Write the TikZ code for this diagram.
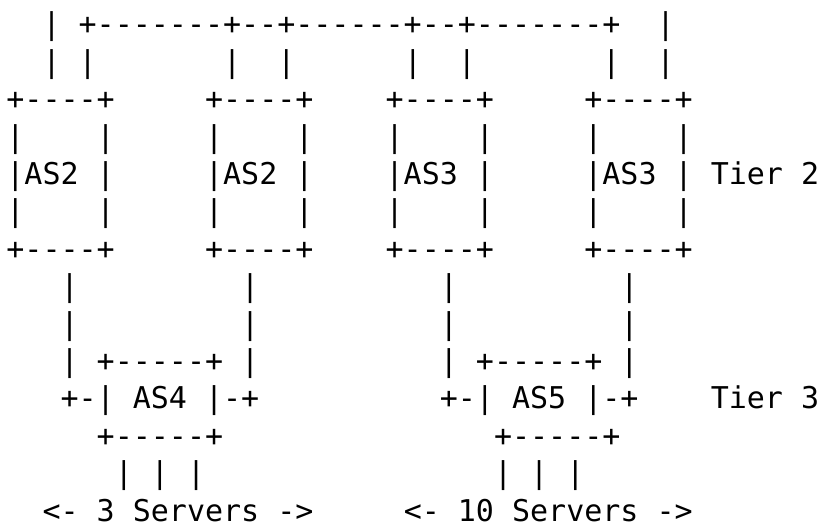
\documentclass[tikz,border=0pt]{standalone}
\usepackage{fontspec}
\setmonofont{DejaVu Sans Mono}
\tikzset{
  asciirow/.style = {anchor=base west, inner sep=0pt, text=black,
    font=\ttfamily\fontsize{15}{18}\selectfont},
}
\newcommand*{\rowpitch}{18.7}

\begin{document}
\begin{tikzpicture}[x=1pt,y=1pt]
  \useasboundingbox (0,0) rectangle (409.5,-264);
  % one node per text line, ~ keeps the columns
  \foreach \line [count=\i] in {
    ~~|~+-------+--+------+--+-------+~~|,
    ~~|~|~~~~~~~|~~|~~~~~~|~~|~~~~~~~|~~|,
    +----+~~~~~+----+~~~~+----+~~~~~+----+,
    |~~~~|~~~~~|~~~~|~~~~|~~~~|~~~~~|~~~~|,
    |AS2~|~~~~~|AS2~|~~~~|AS3~|~~~~~|AS3~|~Tier~2,
    |~~~~|~~~~~|~~~~|~~~~|~~~~|~~~~~|~~~~|,
    +----+~~~~~+----+~~~~+----+~~~~~+----+,
    ~~~|~~~~~~~~~|~~~~~~~~~~|~~~~~~~~~|,
    ~~~|~~~~~~~~~|~~~~~~~~~~|~~~~~~~~~|,
    ~~~|~+-----+~|~~~~~~~~~~|~+-----+~|,
    ~~~+-|~AS4~|-+~~~~~~~~~~+-|~AS5~|-+~~~~Tier~3,
    ~~~~~+-----+~~~~~~~~~~~~~~~+-----+,
    ~~~~~~|~|~|~~~~~~~~~~~~~~~~|~|~|,
    ~~<-~3~Servers~->~~~~~<-~10~Servers~->
  }
    \node[asciirow] (row\i) at (3,{-17.5-(\i-1)*\rowpitch}) {\line};
\end{tikzpicture}
\end{document}
